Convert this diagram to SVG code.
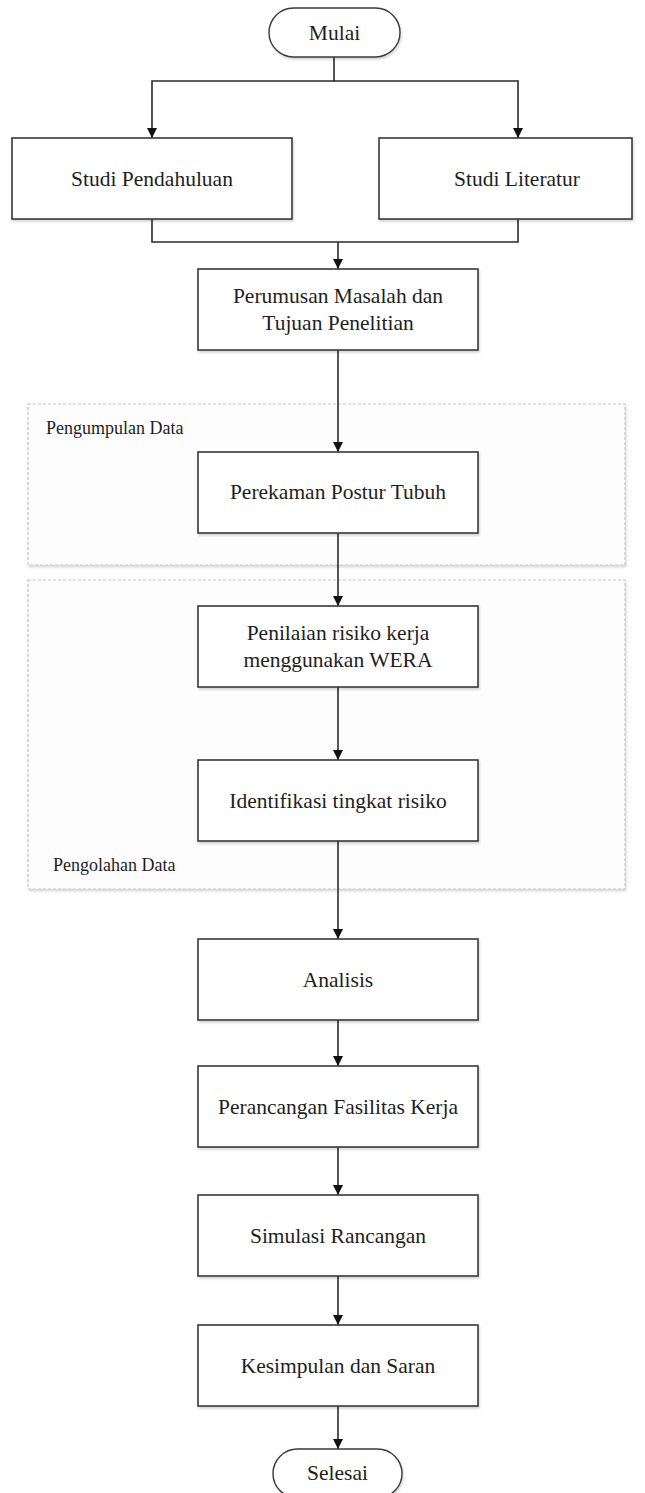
<svg xmlns="http://www.w3.org/2000/svg" width="645" height="1493" viewBox="0 0 645 1493">
  <style>
    .bg { fill: #ffffff; }
    .grp { fill: #fdfdfe; stroke: #c4c4c4; stroke-width: 1.2; stroke-dasharray: 3 2; }
    .box { fill: #ffffff; stroke: #3a3a3a; stroke-width: 1.6; }
    .term { fill: #ffffff; stroke: #3a3a3a; stroke-width: 1.4; }
    .t { font-family: "Liberation Serif", "Times New Roman", serif; font-size: 21.5px; fill: #1e1e1e; text-anchor: middle; }
    .lbl { font-family: "Liberation Serif", "Times New Roman", serif; font-size: 18px; fill: #1e1e1e; }
    .con { fill: none; stroke: #2a2a2a; stroke-width: 1.6; }
  </style>
  <defs>
    <marker id="arr" viewBox="0 0 10 10" refX="10" refY="5" markerWidth="10" markerHeight="10" markerUnits="userSpaceOnUse" orient="auto">
      <path d="M0,0 L10,5 L0,10 z" fill="#111111"/>
    </marker>
    <filter id="sh" x="-5%" y="-5%" width="112%" height="115%">
      <feDropShadow dx="1" dy="2" stdDeviation="1.2" flood-color="#000000" flood-opacity="0.16"/>
    </filter>
  </defs>
  <rect class="bg" x="0" y="0" width="645" height="1493"/>

  <g id="group-pengumpulan">
    <rect class="grp" x="28" y="404" width="597" height="161" filter="url(#sh)"/>
    <text class="lbl" x="46" y="434">Pengumpulan Data</text>
  </g>
  <g id="group-pengolahan">
    <rect class="grp" x="28" y="580" width="597" height="309" filter="url(#sh)"/>
    <text class="lbl" x="53" y="871">Pengolahan Data</text>
  </g>

  <g id="connectors">
    <path class="con" d="M334,57 V81 H152 V138" marker-end="url(#arr)"/>
    <path class="con" d="M334,81 H518 V138" marker-end="url(#arr)"/>
    <path class="con" d="M152,219 V242 H518 V219"/>
    <path class="con" d="M338,242 V269" marker-end="url(#arr)"/>
    <path class="con" d="M338,350 V452" marker-end="url(#arr)"/>
    <path class="con" d="M338,533 V606" marker-end="url(#arr)"/>
    <path class="con" d="M338,687 V760" marker-end="url(#arr)"/>
    <path class="con" d="M338,841 V939" marker-end="url(#arr)"/>
    <path class="con" d="M338,1020 V1066" marker-end="url(#arr)"/>
    <path class="con" d="M338,1147 V1195" marker-end="url(#arr)"/>
    <path class="con" d="M338,1276 V1325" marker-end="url(#arr)"/>
    <path class="con" d="M338,1406 V1449" marker-end="url(#arr)"/>
  </g>

  <g id="mulai">
    <rect class="term" x="269" y="8" width="131" height="49" rx="24.5" ry="24.5" filter="url(#sh)"/>
    <text class="t" x="334.5" y="40">Mulai</text>
  </g>
  <g id="studi-pendahuluan">
    <rect class="box" x="12" y="138" width="280" height="81" filter="url(#sh)"/>
    <text class="t" x="152" y="186">Studi Pendahuluan</text>
  </g>
  <g id="studi-literatur">
    <rect class="box" x="379" y="138" width="253" height="81" filter="url(#sh)"/>
    <text class="t" x="517" y="186">Studi Literatur</text>
  </g>
  <g id="perumusan">
    <rect class="box" x="198" y="269" width="280" height="81" filter="url(#sh)"/>
    <text class="t" x="338" y="303">Perumusan Masalah dan</text>
    <text class="t" x="338" y="330">Tujuan Penelitian</text>
  </g>
  <g id="perekaman">
    <rect class="box" x="198" y="452" width="280" height="81" filter="url(#sh)"/>
    <text class="t" x="338" y="499">Perekaman Postur Tubuh</text>
  </g>
  <g id="penilaian">
    <rect class="box" x="198" y="606" width="280" height="81" filter="url(#sh)"/>
    <text class="t" x="338" y="640">Penilaian risiko kerja</text>
    <text class="t" x="338" y="667">menggunakan WERA</text>
  </g>
  <g id="identifikasi">
    <rect class="box" x="198" y="760" width="280" height="81" filter="url(#sh)"/>
    <text class="t" x="338" y="808">Identifikasi tingkat risiko</text>
  </g>
  <g id="analisis">
    <rect class="box" x="198" y="939" width="280" height="81" filter="url(#sh)"/>
    <text class="t" x="338" y="987">Analisis</text>
  </g>
  <g id="perancangan">
    <rect class="box" x="198" y="1066" width="280" height="81" filter="url(#sh)"/>
    <text class="t" x="338" y="1114">Perancangan Fasilitas Kerja</text>
  </g>
  <g id="simulasi">
    <rect class="box" x="198" y="1195" width="280" height="81" filter="url(#sh)"/>
    <text class="t" x="338" y="1243">Simulasi Rancangan</text>
  </g>
  <g id="kesimpulan">
    <rect class="box" x="198" y="1325" width="280" height="81" filter="url(#sh)"/>
    <text class="t" x="338" y="1373">Kesimpulan dan Saran</text>
  </g>
  <g id="selesai">
    <rect class="term" x="273" y="1449" width="129" height="49" rx="24.5" ry="24.5" filter="url(#sh)"/>
    <text class="t" x="337.5" y="1480">Selesai</text>
  </g>
</svg>
